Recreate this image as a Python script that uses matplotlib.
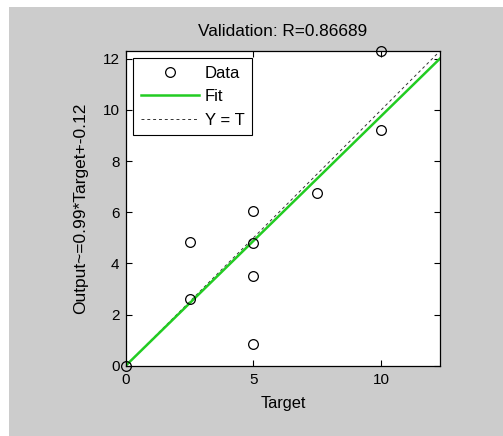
import matplotlib
matplotlib.use("Agg")
import matplotlib.pyplot as plt
from matplotlib.patches import Rectangle

# validation data (target vs network output)
targets = [0, 2.5, 2.5, 5, 5, 5, 5, 7.5, 10, 10]
outputs = [0, 4.85, 2.62, 6.05, 4.8, 3.52, 0.85, 6.75, 12.3, 9.2]
fit_slope = 0.976
fit_intercept = 0.0
ax_max = 12.3
x_ticks = [0, 5, 10]
y_ticks = [0, 2, 4, 6, 8, 10, 12]

plt.rcParams['font.family'] = ['Liberation Sans', 'DejaVu Sans']
plt.rcParams['font.size'] = 11

fig = plt.figure(figsize=(5.03, 4.36), dpi=100, facecolor='white')
# MATLAB-like grey figure panel, offset a little from the top-left
fig.patches.append(Rectangle((9 / 503, 0), 1, 1 - 7 / 436, transform=fig.transFigure,
                             facecolor='#cccccc', edgecolor='none', zorder=-10))

ax = fig.add_axes([125.7 / 503, 1 - 365.7 / 436, (440 - 125.7) / 503, (365.7 - 51) / 436])
ax.set_facecolor('white')

line_x = [0, ax_max]
ax.plot(targets, outputs, 'o', mfc='none', mec='black', ms=7, mew=0.9, label='Data',
        clip_on=False, zorder=3)
ax.plot(line_x, [fit_slope * v + fit_intercept for v in line_x], color='#22cc22', lw=1.8,
        label='Fit', zorder=2)
ax.plot(line_x, line_x, color='#333333', lw=0.7, ls=(0, (3, 3)), label='Y = T', zorder=1)

ax.set_xlim(0, ax_max)
ax.set_ylim(0, ax_max)
ax.set_xticks(x_ticks)
ax.set_yticks(y_ticks)
ax.tick_params(direction='in', length=4, width=0.8, top=True, right=True, labelsize=11)
ax.tick_params(axis='x', pad=5)
ax.tick_params(axis='y', pad=4.5)
for s in ax.spines.values():
    s.set_linewidth(0.9)

ax.set_title('Validation: R=0.86689', pad=10.5, fontsize=12.4)
ax.set_xlabel('Target', labelpad=6.5, fontsize=11.8)
ax.set_ylabel('Output~=0.99*Target+-0.12', labelpad=10, fontsize=12.5)

leg = ax.legend(loc='upper left', fancybox=False, edgecolor='black', framealpha=1,
                borderaxespad=0.45, handlelength=3.5, handletextpad=0.35,
                labelspacing=0.5, borderpad=0.45, fontsize=12)
leg.get_frame().set_linewidth(0.8)

fig.savefig('out.png', dpi=100, facecolor=fig.get_facecolor())
